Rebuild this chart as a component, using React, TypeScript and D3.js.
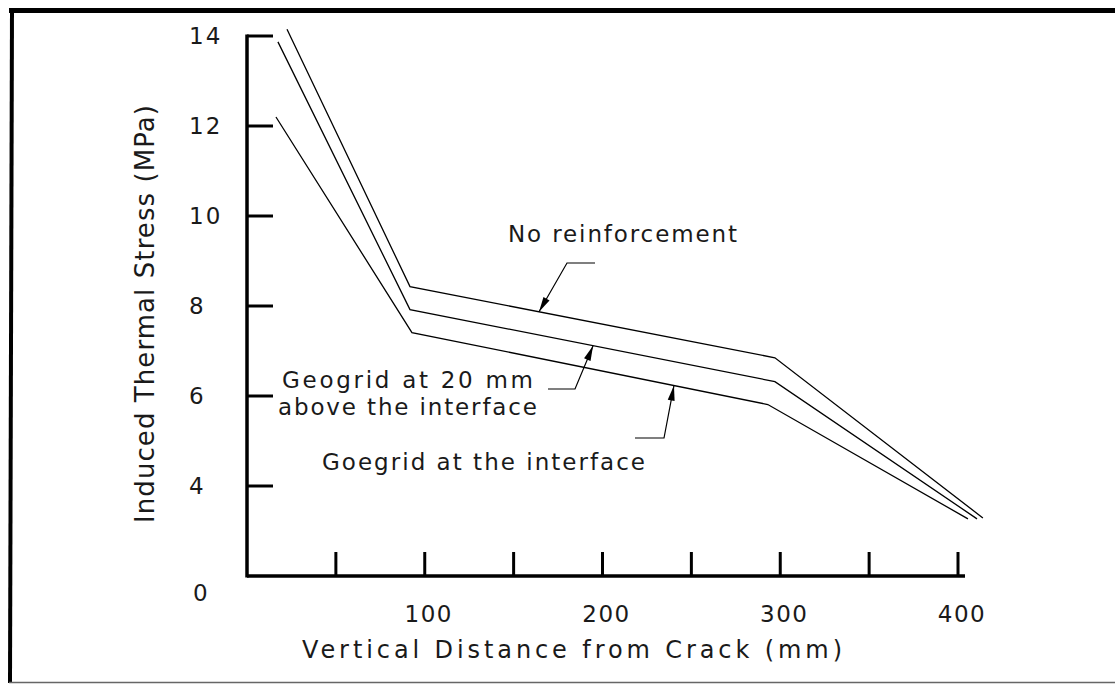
import React from "react";
import * as d3 from "d3";

// ---- data ----
const xTicks = [50, 100, 150, 200, 250, 300, 350, 400];
const xTickLabels = [100, 200, 300, 400];
const yTicks = [4, 6, 8, 10, 12, 14];
const originLabel = "0";

const noReinfX = [22.5, 91.7, 297, 414];
const noReinfY = [14.15, 8.43, 6.85, 3.29];
const geo20X = [17.4, 91.7, 297, 410.7];
const geo20Y = [13.87, 7.92, 6.32, 3.27];
const geoIntX = [16.3, 92.8, 293, 405.6];
const geoIntY = [12.2, 7.41, 5.81, 3.27];

const xTitle = "Vertical Distance from Crack (mm)";
const yTitle = "Induced Thermal Stress (MPa)";

const series = [
  { name: "No reinforcement", xs: noReinfX, ys: noReinfY },
  { name: "Geogrid at 20 mm above the interface", xs: geo20X, ys: geo20Y },
  { name: "Goegrid at the interface", xs: geoIntX, ys: geoIntY },
];

const W = 1115;
const H = 684;
const FONT = "'DejaVu Sans', sans-serif";

export default function App() {
  const x = d3.scaleLinear().domain([0, 400]).range([247, 958]);
  const y = d3.scaleLinear().domain([2, 14]).range([576, 36]);
  const line = d3
    .line<[number, number]>()
    .x((d) => x(d[0]))
    .y((d) => y(d[1]));

  const interp = (s: { xs: number[]; ys: number[] }, xv: number) => {
    for (let i = 0; i < s.xs.length - 1; i++) {
      if (xv >= s.xs[i] && xv <= s.xs[i + 1]) {
        const t = (xv - s.xs[i]) / (s.xs[i + 1] - s.xs[i]);
        return s.ys[i] + t * (s.ys[i + 1] - s.ys[i]);
      }
    }
    return s.ys[s.ys.length - 1];
  };

  const leaders = [
    { si: 0, tipX: 164.3, start: [595, 263], elbow: [567, 263] },
    { si: 1, tipX: 194.7, start: [548, 389], elbow: [575, 389] },
    { si: 2, tipX: 240.2, start: [635, 438], elbow: [664, 438] },
  ];

  const arrowHead = (ex: number, ey: number, tx: number, ty: number) => {
    const dx = tx - ex;
    const dy = ty - ey;
    const len = Math.hypot(dx, dy);
    const ux = dx / len;
    const uy = dy / len;
    const L = 15;
    const w = 3.5;
    const bx = tx - ux * L;
    const by = ty - uy * L;
    return `M${tx},${ty}L${bx - uy * w},${by + ux * w}L${bx + uy * w},${by - ux * w}Z`;
  };

  const xAxisEnd = 965;
  const txt = "#1a1a1a";

  return (
    <svg
      width={W}
      height={H}
      style={{ position: "absolute", left: 0, top: 0, background: "#fff" }}
      fontFamily={FONT}
    >
      <rect x={0} y={0} width={W} height={H} fill="#fff" />
      {/* frame */}
      <line x1={9} y1={10.5} x2={W} y2={10.5} stroke="#000" strokeWidth={5} />
      <line x1={12} y1={8} x2={10} y2={683} stroke="#000" strokeWidth={4} />
      <line x1={9} y1={682.5} x2={W} y2={682.5} stroke="#666" strokeWidth={1.5} />

      {/* axes */}
      <line x1={x(0)} y1={y(2)} x2={xAxisEnd} y2={y(2)} stroke="#000" strokeWidth={3.5} />
      <line x1={x(0)} y1={y(2) + 1.5} x2={x(0)} y2={y(14) - 1.5} stroke="#000" strokeWidth={3.5} />
      {yTicks.map((t) => (
        <g key={"yt" + t}>
          <line x1={x(0)} y1={y(t)} x2={x(0) + 26} y2={y(t)} stroke="#000" strokeWidth={3} />
          <text x={189} y={y(t)} dy="0.36em" fontSize={23} fill={txt} letterSpacing={2}>
            {t}
          </text>
        </g>
      ))}
      <text x={193} y={593} dy="0.36em" fontSize={23} fill={txt}>
        {originLabel}
      </text>
      {xTicks.map((t) => (
        <line key={"xt" + t} x1={x(t)} y1={y(2)} x2={x(t)} y2={y(2) - 24} stroke="#000" strokeWidth={3} />
      ))}
      {xTickLabels.map((t) => (
        <text key={"xl" + t} x={x(t) + 4} y={622} textAnchor="middle" fontSize={23} fill={txt} letterSpacing={1.5}>
          {t}
        </text>
      ))}
      <text x={302} y={658} fontSize={24} fill={txt} textLength={540} lengthAdjust="spacing">
        {xTitle}
      </text>
      <text
        transform="translate(154,523) rotate(-90)"
        x={0}
        y={0}
        fontSize={26}
        fill={txt}
        textLength={418}
        lengthAdjust="spacing"
      >
        {yTitle}
      </text>

      {/* series */}
      {series.map((s) => (
        <path
          key={s.name}
          d={line(s.xs.map((v, i) => [v, s.ys[i]] as [number, number])) || ""}
          fill="none"
          stroke="#000"
          strokeWidth={1.3}
        />
      ))}

      {/* annotations */}
      {leaders.map((l, i) => {
        const s = series[l.si];
        const tx = x(l.tipX);
        const ty = y(interp(s, l.tipX));
        return (
          <g key={"ld" + i}>
            <path
              d={`M${l.start[0]},${l.start[1]}L${l.elbow[0]},${l.elbow[1]}L${tx},${ty}`}
              fill="none"
              stroke="#000"
              strokeWidth={1.2}
            />
            <path d={arrowHead(l.elbow[0], l.elbow[1], tx, ty)} fill="#000" />
          </g>
        );
      })}
      <text x={508} y={242} fontSize={23} fill={txt} textLength={229} lengthAdjust="spacing">
        No reinforcement
      </text>
      <text x={282} y={388} fontSize={23} fill={txt} textLength={251} lengthAdjust="spacing">
        Geogrid at 20 mm
      </text>
      <text x={278} y={415} fontSize={23} fill={txt} textLength={259} lengthAdjust="spacing">
        above the interface
      </text>
      <text x={322} y={470} fontSize={23} fill={txt} textLength={323} lengthAdjust="spacing">
        Goegrid at the interface
      </text>
    </svg>
  );
}
